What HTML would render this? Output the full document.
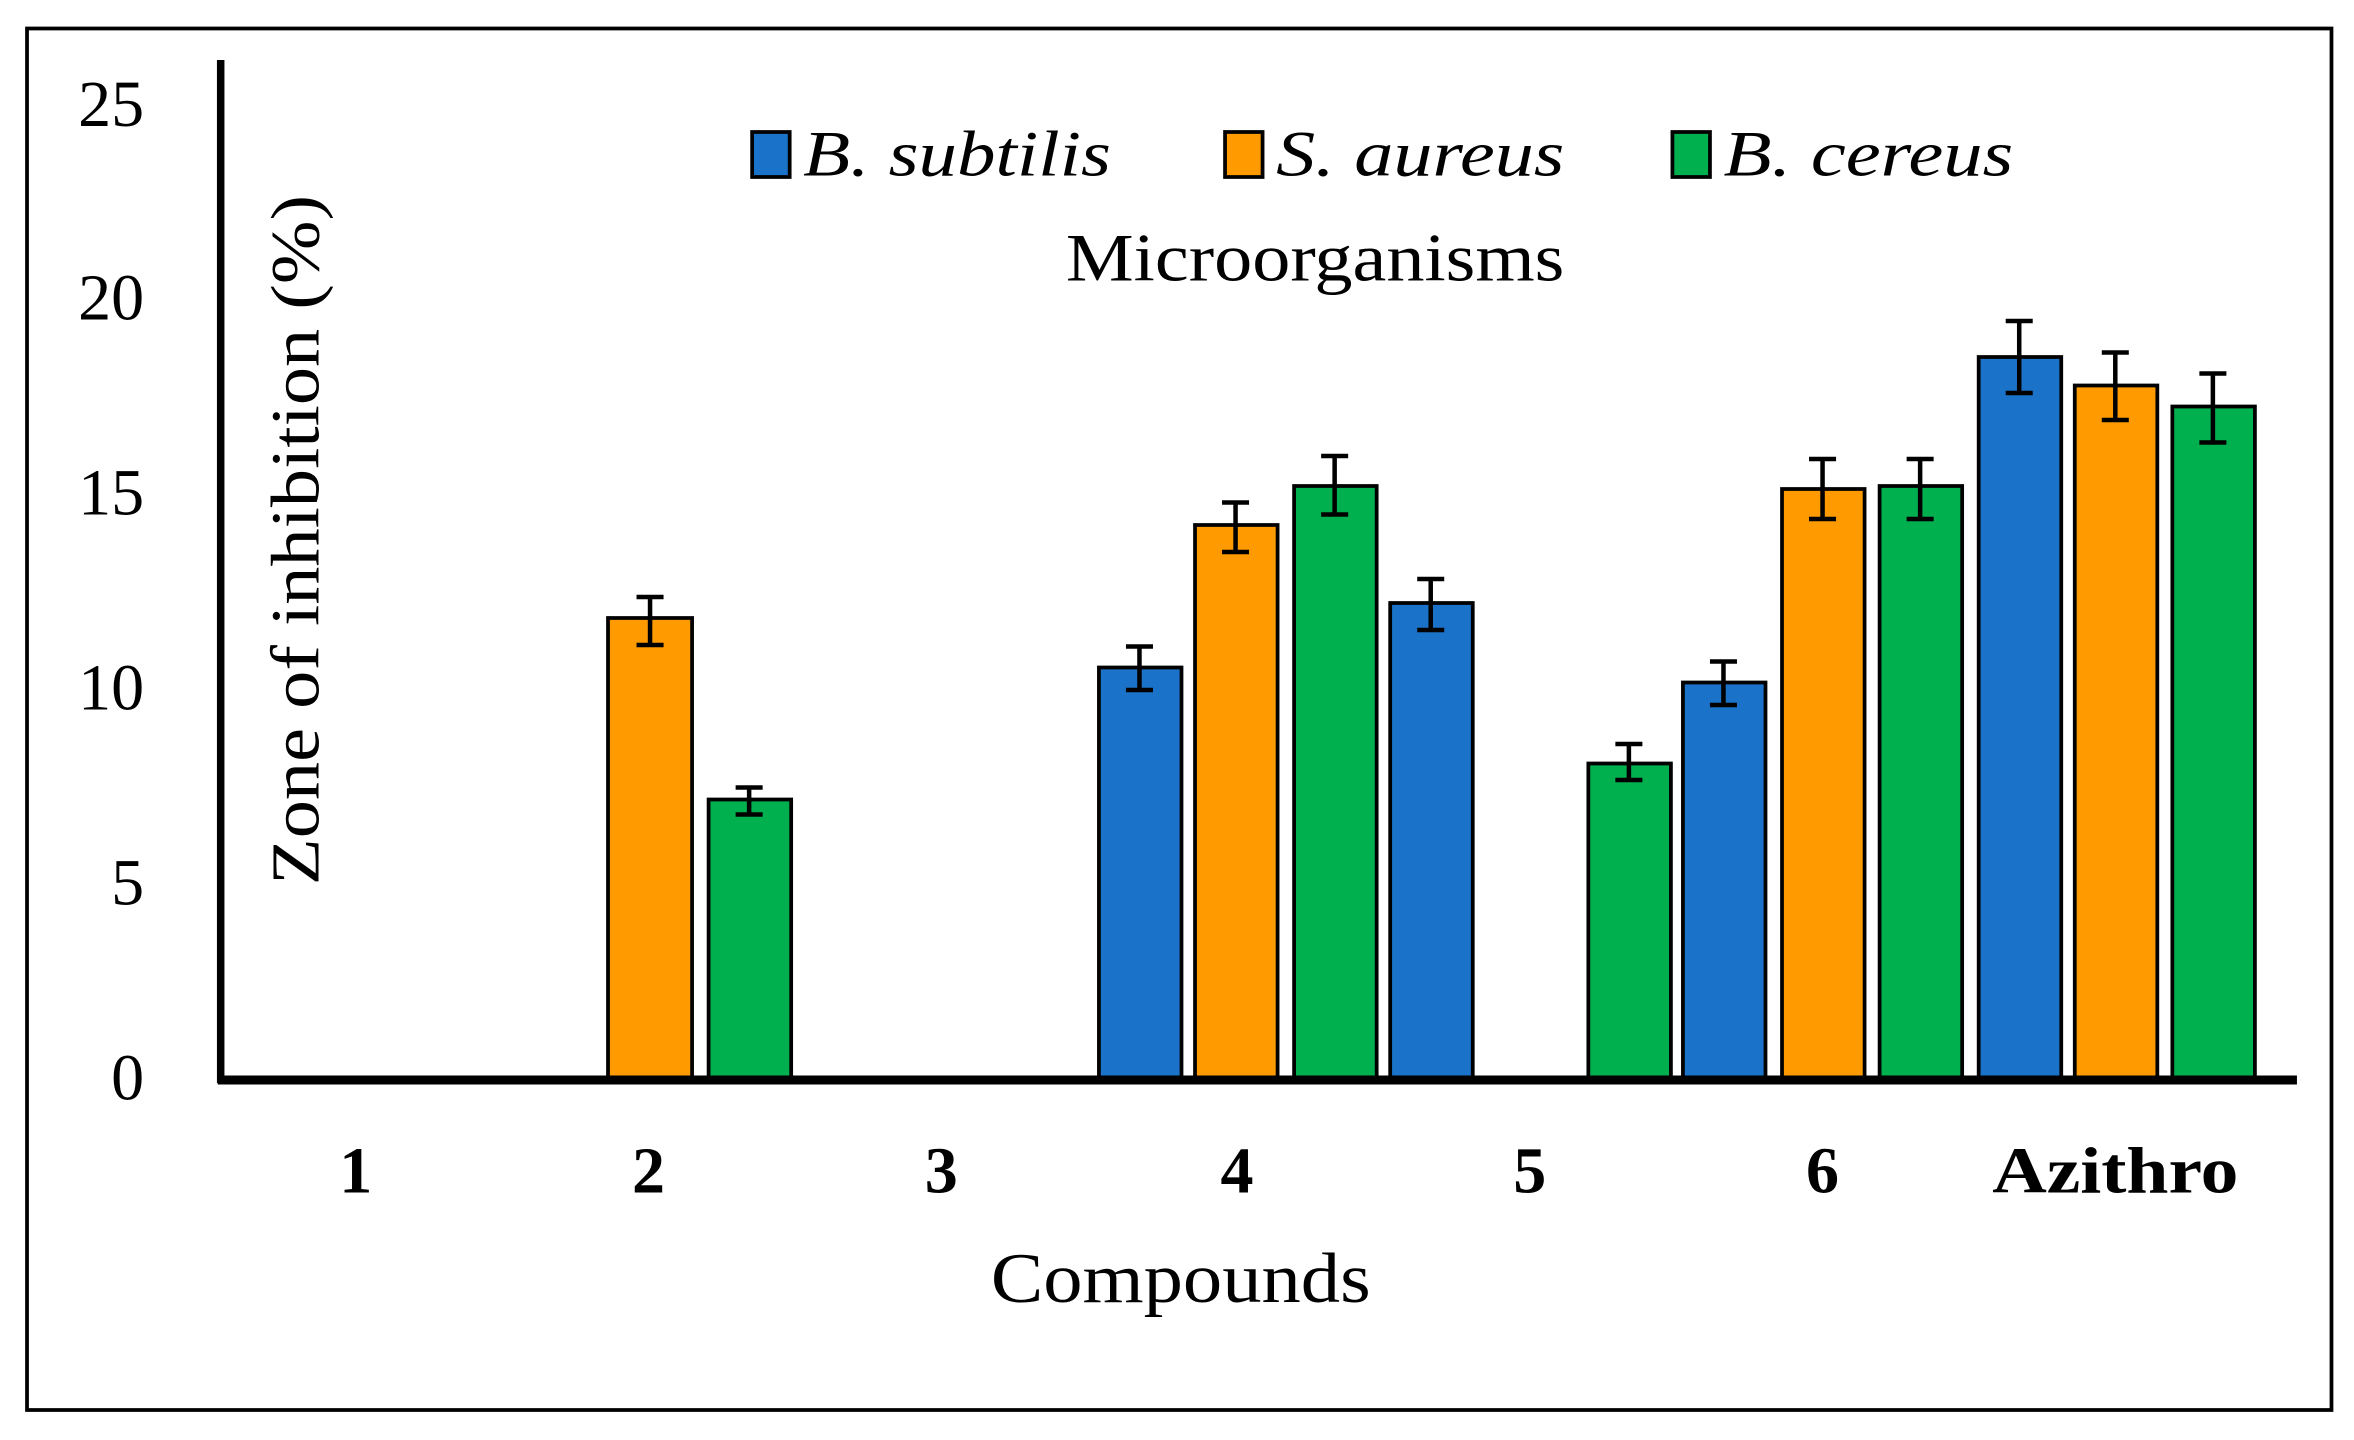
<!DOCTYPE html>
<html><head><meta charset="utf-8"><style>
html,body{margin:0;padding:0;background:#fff;}
svg{display:block;}
text{font-family:"Liberation Serif",serif;fill:#000;}
</style></head><body>
<svg width="2354" height="1440" viewBox="0 0 1568 960" preserveAspectRatio="none" xmlns="http://www.w3.org/2000/svg">
<rect x="0" y="0" width="1568" height="960" fill="#fff"/>
<rect x="18" y="19" width="1535" height="921" fill="none" stroke="#000" stroke-width="2.5"/>
<!-- legend -->
<rect x="501" y="88" width="25" height="30" fill="#1a73c9" stroke="#000" stroke-width="2.5"/>
<text x="535" y="117" font-size="43" font-style="italic" textLength="205" lengthAdjust="spacingAndGlyphs">B. subtilis</text>
<rect x="816" y="88" width="25" height="30" fill="#ff9a00" stroke="#000" stroke-width="2.5"/>
<text x="850" y="117" font-size="43" font-style="italic" textLength="192" lengthAdjust="spacingAndGlyphs">S. aureus</text>
<rect x="1114" y="88" width="25" height="30" fill="#00b04f" stroke="#000" stroke-width="2.5"/>
<text x="1148" y="117" font-size="43" font-style="italic" textLength="193" lengthAdjust="spacingAndGlyphs">B. cereus</text>
<text x="710" y="187" font-size="45" textLength="332" lengthAdjust="spacingAndGlyphs">Microorganisms</text>
<!-- y ticks -->
<g font-size="44" text-anchor="end">
<text x="96" y="733">0</text>
<text x="96" y="603">5</text>
<text x="96" y="473">10</text>
<text x="96" y="343">15</text>
<text x="96" y="213">20</text>
<text x="96" y="84">25</text>
</g>
<text transform="translate(212,590) rotate(-90)" font-size="46" textLength="460" lengthAdjust="spacingAndGlyphs">Zone of inhibition (%)</text>
<!-- bars -->
<g stroke="#000" stroke-width="2.5">
<rect x="405" y="412" width="56" height="308" fill="#ff9a00"/>
<rect x="472" y="533" width="55" height="187" fill="#00b04f"/>
<rect x="732" y="445" width="55" height="275" fill="#1a73c9"/>
<rect x="796" y="350" width="55" height="370" fill="#ff9a00"/>
<rect x="862" y="324" width="55" height="396" fill="#00b04f"/>
<rect x="926" y="402" width="55" height="318" fill="#1a73c9"/>
<rect x="1058" y="509" width="55" height="211" fill="#00b04f"/>
<rect x="1121" y="455" width="55" height="265" fill="#1a73c9"/>
<rect x="1187" y="326" width="55" height="394" fill="#ff9a00"/>
<rect x="1252" y="324" width="55" height="396" fill="#00b04f"/>
<rect x="1318" y="238" width="55" height="482" fill="#1a73c9"/>
<rect x="1382" y="257" width="55" height="463" fill="#ff9a00"/>
<rect x="1447" y="271" width="55" height="449" fill="#00b04f"/>
</g>
<!-- error bars -->
<g stroke="#000" stroke-width="3" fill="none">
<path d="M433 398V430M424 398H442M424 430H442"/>
<path d="M499 525V543M490 525H508M490 543H508"/>
<path d="M759 431V460M750 431H768M750 460H768"/>
<path d="M823 335V368M814 335H832M814 368H832"/>
<path d="M889 304V343M880 304H898M880 343H898"/>
<path d="M953 386V420M944 386H962M944 420H962"/>
<path d="M1085 496V520M1076 496H1094M1076 520H1094"/>
<path d="M1148 441V470M1139 441H1157M1139 470H1157"/>
<path d="M1214 306V346M1205 306H1223M1205 346H1223"/>
<path d="M1279 306V346M1270 306H1288M1270 346H1288"/>
<path d="M1345 214V262M1336 214H1354M1336 262H1354"/>
<path d="M1409 235V280M1400 235H1418M1400 280H1418"/>
<path d="M1474 249V295M1465 249H1483M1465 295H1483"/>
</g>
<!-- axes -->
<line x1="147" y1="40" x2="147" y2="722" stroke="#000" stroke-width="5"/>
<line x1="145" y1="720" x2="1530" y2="720" stroke="#000" stroke-width="6"/>
<!-- x labels -->
<g font-size="44" font-weight="bold" text-anchor="middle">
<text x="237" y="795">1</text>
<text x="432" y="795">2</text>
<text x="627" y="795">3</text>
<text x="824" y="795">4</text>
<text x="1019" y="795">5</text>
<text x="1214" y="795">6</text>
</g>
<text x="1327" y="795" font-size="44" font-weight="bold" textLength="164" lengthAdjust="spacingAndGlyphs">Azithro</text>
<text x="660" y="868" font-size="47" textLength="253" lengthAdjust="spacingAndGlyphs">Compounds</text>
</svg>
</body></html>
